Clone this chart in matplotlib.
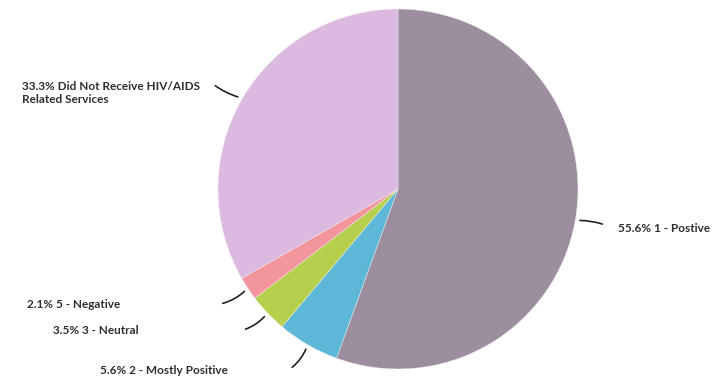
import numpy as np
import matplotlib
matplotlib.use("Agg")
import matplotlib.pyplot as plt

labels = ["1 - Postive", "2 - Mostly Positive", "3 - Neutral", "5 - Negative",
          "Did Not Receive HIV/AIDS\nRelated Services"]
values = [55.6, 5.6, 3.5, 2.1, 33.3]
colors = ["#9c8e9f", "#5db7d6", "#b6cf4c", "#f3959d", "#dcb9df"]

W, H = 712, 379
fig = plt.figure(figsize=(W / 100, H / 100), dpi=100)
ax = fig.add_axes([0, 0, 1, 1])

cx, cy, r = 398, H - 189, 180
wedges, _ = ax.pie(values, colors=colors, startangle=90, counterclock=False,
                   center=(cx, cy), radius=r, frame=True,
                   wedgeprops=dict(linewidth=0.3, edgecolor="#f4eef4"))
ax.set_xlim(0, W)
ax.set_ylim(0, H)
ax.set_aspect("equal")
ax.axis("off")

# label text anchor, leader end point, curvature
label_layout = [
    ((618, H - 228), (605, H - 225), 0.1),
    ((100, H - 371), (290, H - 369), 0.15),
    ((53, H - 331), (243, H - 330), 0.15),
    ((27, H - 304), (220, H - 304), 0.15),
    ((22, H - 93), (213, H - 84), 0.1),
]

font = dict(family=["Lato", "DejaVu Sans"], fontsize=8.5, fontweight="bold",
            color="#2e2e2e")

for w, v, lab, (tpos, lend, rad) in zip(wedges, values, labels, label_layout):
    ang = np.deg2rad((w.theta1 + w.theta2) / 2)
    sx, sy = cx + (r + 2) * np.cos(ang), cy + (r + 2) * np.sin(ang)
    ax.annotate("", xy=(sx, sy), xytext=lend,
                arrowprops=dict(arrowstyle="-", color="#222222", lw=1.2,
                                connectionstyle=f"arc3,rad={rad}"))
    ax.text(tpos[0], tpos[1], f"{v:.1f}% {lab}", ha="left", va="center",
            linespacing=1.3, **font)

fig.savefig("out.png", dpi=100, facecolor="white")
